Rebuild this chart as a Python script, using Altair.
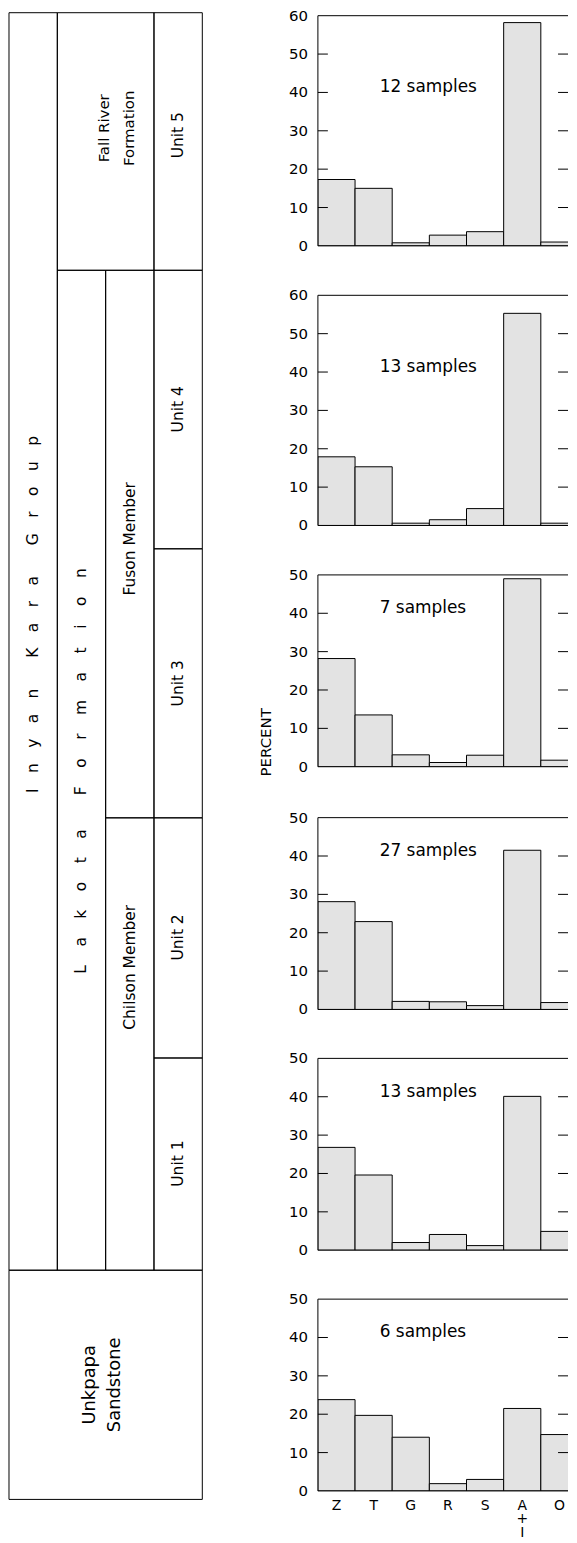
import altair as alt
import pandas as pd

FONT = "DejaVu Sans"
BAR_FILL = "#e3e3e3"
PX_PER_PCT = 3.85
PANEL_W = 251          # visible plot width (right edge is cut like the reference)
BAND_RANGE = 261       # full width of the 7 category bands

# ---------------- data ----------------
categories = ["Z", "T", "G", "R", "S", "A+I", "O"]
category_labels = ["Z", "T", "G", "R", "S", ["A", "+", "I"], "O"]
sample_counts = [12, 13, 7, 27, 13, 6]
y_max = [60, 60, 50, 50, 50, 50]
unit5_pct = [17.3, 15.0, 0.8, 2.8, 3.7, 58.2, 1.0]
unit4_pct = [17.9, 15.3, 0.6, 1.5, 4.4, 55.3, 0.6]
unit3_pct = [28.2, 13.5, 3.1, 1.1, 3.0, 49.0, 1.7]
unit2_pct = [28.1, 22.9, 2.1, 2.0, 1.0, 41.5, 1.8]
unit1_pct = [26.8, 19.6, 2.0, 4.1, 1.2, 40.1, 4.9]
unkpapa_pct = [23.8, 19.7, 14.0, 1.9, 3.0, 21.5, 14.7]
series = [unit5_pct, unit4_pct, unit3_pct, unit2_pct, unit1_pct, unkpapa_pct]

# stratigraphic column: boxes (column index span, top/bottom in diagram units)
strat_names = ["Inyan Kara Group", "Fall River Formation", "Lakota Formation",
               "Fuson Member", "Chilson Member",
               "Unit 5", "Unit 4", "Unit 3", "Unit 2", "Unit 1", "Unkpapa Sandstone"]
strat_col0 = [0, 1, 1, 2, 2, 3, 3, 3, 3, 3, 0]
strat_col1 = [1, 3, 2, 3, 3, 4, 4, 4, 4, 4, 4]
strat_top = [4, 4, 262.5, 262.5, 812, 4, 262.5, 542, 812, 1053, 1266]
strat_bottom = [1266, 262.5, 1266, 812, 1266, 262.5, 542, 812, 1053, 1266, 1496]

EM = "\u2003"
THIN = "\u2009"


def spaced(s, gap, word_gap):
    return word_gap.join(gap.join(list(w)) for w in s.split(" "))


col_label_text = [spaced("Inyan Kara Group", EM, EM + EM),
                  spaced("Lakota Formation", EM + THIN, EM + EM + THIN),
                  "Fuson Member", "Chilson Member",
                  "Unit 5", "Unit 4", "Unit 3", "Unit 2", "Unit 1"]
col_label_x = [0.5, 1.5, 2.5, 2.5, 3.5, 3.5, 3.5, 3.5, 3.5]
col_label_y = [608, 765, 532, 962, 127, 402, 677, 932, 1159]

two_line_text = [["Fall River", "Formation"], ["Unkpapa", "Sandstone"]]
two_line_x = [1.96, 1.67]
two_line_y = [120, 1381]
two_line_size = [15, 18]

# ---------------- column chart ----------------
col_w, col_h = 194, 1497
COL_OFFSET = 7   # column origin sits level with the first panel's plot top
xs = alt.Scale(domain=[0, 4])
ys = alt.Scale(domain=[COL_OFFSET, COL_OFFSET + col_h], reverse=True)

boxes_df = pd.DataFrame({"name": strat_names, "c0": strat_col0, "c1": strat_col1,
                         "top": strat_top, "bottom": strat_bottom})
boxes = alt.Chart(boxes_df).mark_rect(fill="transparent", stroke="black", strokeWidth=1).encode(
    x=alt.X("c0:Q", scale=xs, axis=None), x2="c1:Q",
    y=alt.Y("top:Q", scale=ys, axis=None), y2="bottom:Q")

lab_df = pd.DataFrame({"t": col_label_text, "x": col_label_x, "y": col_label_y})
labels = alt.Chart(lab_df).mark_text(angle=270, font=FONT, fontSize=15.5, color="black",
                                     align="center", baseline="middle").encode(
    x=alt.X("x:Q", scale=xs, axis=None), y=alt.Y("y:Q", scale=ys, axis=None), text="t:N")

two_layers = []
for t, x, y, fs in zip(two_line_text, two_line_x, two_line_y, two_line_size):
    d = pd.DataFrame({"x": [x], "y": [y]})
    two_layers.append(
        alt.Chart(d).mark_text(angle=270, font=FONT, fontSize=fs, color="black", align="center",
                               baseline="middle", lineHeight=25, text=t).encode(
            x=alt.X("x:Q", scale=xs, axis=None), y=alt.Y("y:Q", scale=ys, axis=None)))

column = alt.layer(boxes, labels, *two_layers).properties(width=col_w, height=col_h)


# ---------------- histogram panels ----------------
def make_panel(i):
    ymax = y_max[i]
    h = round(ymax * PX_PER_PCT, 1)
    last = i == len(series) - 1
    df = pd.DataFrame({"mineral": categories, "percent": series[i]})
    xscale = alt.Scale(domain=categories, range=[0, BAND_RANGE], paddingInner=0, paddingOuter=0)
    yscale = alt.Scale(domain=[0, ymax], nice=False)

    bars = alt.Chart(df).mark_bar(fill=BAR_FILL, stroke="black", strokeWidth=1, clip=True).encode(
        x=alt.X("mineral:N", sort=categories, scale=xscale, axis=None),
        y=alt.Y("percent:Q", scale=yscale, axis=None))

    tick_df = pd.DataFrame({"v": list(range(0, ymax + 1, 10))})
    inner_df = pd.DataFrame({"v": list(range(10, ymax, 10))})
    left_ticks = alt.Chart(inner_df).mark_rule(color="black", strokeWidth=1).encode(
        y=alt.Y("v:Q", scale=yscale, axis=None), x=alt.value(0), x2=alt.value(10))
    right_ticks = alt.Chart(inner_df).mark_rule(color="black", strokeWidth=1).encode(
        y=alt.Y("v:Q", scale=yscale, axis=None), x=alt.value(PANEL_W - 10), x2=alt.value(PANEL_W))
    frame_h = alt.Chart(pd.DataFrame({"v": [0, ymax]})).mark_rule(
        color="black", strokeWidth=1).encode(y=alt.Y("v:Q", scale=yscale, axis=None))
    frame_v = alt.Chart(pd.DataFrame({"v": [0]})).mark_rule(color="black", strokeWidth=1).encode(
        x=alt.value(0), y=alt.value(0), y2=alt.value(h))
    y_labels = alt.Chart(tick_df).mark_text(
        align="right", baseline="middle", fontSize=15, font=FONT, color="black").encode(
        y=alt.Y("v:Q", scale=yscale, axis=None), x=alt.value(-10), text="v:Q")
    lab = alt.Chart(pd.DataFrame({"t": [f"{sample_counts[i]} samples"]})).mark_text(
        align="left", baseline="middle", fontSize=17, font=FONT, color="black").encode(
        text="t:N", x=alt.value(62), y=alt.datum(41.3))
    layers = [bars, left_ticks, right_ticks, frame_h, frame_v, y_labels, lab]

    if i == 2:
        layers.append(alt.Chart(pd.DataFrame({"t": ["PERCENT"]})).mark_text(
            angle=270, align="center", baseline="middle", fontSize=15, font=FONT,
            color="black").encode(text="t:N", x=alt.value(-52.5), y=alt.value(168)))
    if last:
        xl_df = pd.DataFrame({"mineral": categories, "lab": category_labels})
        layers.append(alt.Chart(xl_df).mark_text(
            align="center", baseline="top", fontSize=14, font=FONT, color="black",
            lineHeight=13.5).encode(
            x=alt.X("mineral:N", sort=categories, scale=xscale, axis=None),
            y=alt.value(h + 8), text="lab"))
    return alt.layer(*layers).properties(width=PANEL_W, height=h)


panels = alt.vconcat(*[make_panel(i) for i in range(len(series))], spacing=32.6)

chart = alt.hconcat(column, panels, spacing=55).properties(
    padding={"left": 0, "top": -3, "right": 0, "bottom": -4}
).configure_view(stroke="transparent")

chart.save("out.html", embed_options={"renderer": "svg", "actions": False})
